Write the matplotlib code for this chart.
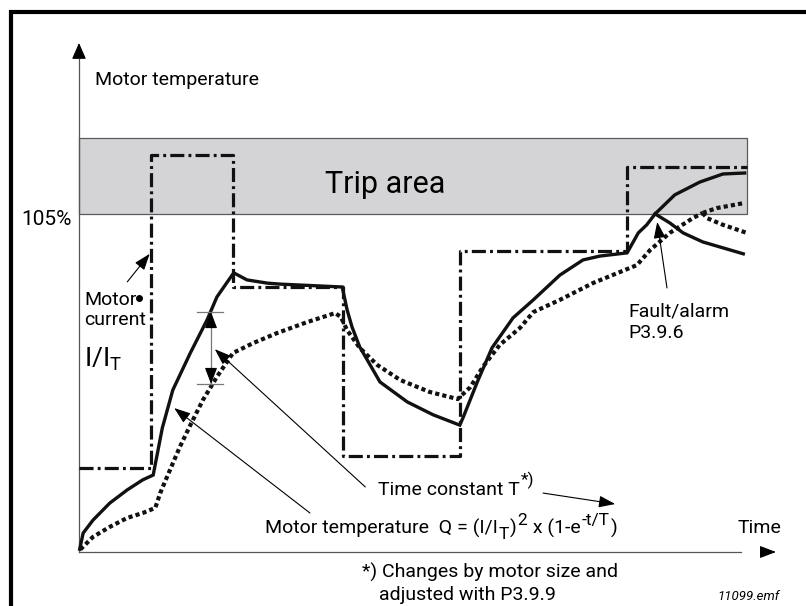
import matplotlib
matplotlib.use("Agg")
import matplotlib.pyplot as plt
from matplotlib.patches import Rectangle

plt.rcParams['font.family'] = ['Roboto', 'DejaVu Sans']
plt.rcParams['mathtext.fontset'] = 'custom'
plt.rcParams['mathtext.rm'] = 'Roboto'
plt.rcParams['mathtext.it'] = 'Roboto:italic'
plt.rcParams['mathtext.bf'] = 'Roboto:bold'

# ---------------- data (time units, temperature in % of nominal) ----------------
# motor current (step profile): change times and levels
current_t = [0, 10.3, 22.0, 37.7, 54.4, 78.3, 95.4]
current_level = [26.1, 123.3, 82.3, 29.8, 93.5, 119.6, 119.6]

# motor temperature, solid curve
temp_t = [0.1, 0.6, 2.0, 4.4, 6.9, 9.1, 10.6, 11.9, 13.4, 15.9, 18.3, 19.7, 22.1,
          24.0, 26.9, 28.7, 37.6, 38.3, 39.0, 40.1, 43.0, 46.9, 50.6, 54.4,
          54.9, 56.9, 59.0, 62.0, 64.9, 68.7, 72.0, 74.4, 78.3, 79.9, 81.1, 82.3]
temp_q = [0.9, 5.9, 9.9, 15.2, 19.3, 22.4, 23.9, 38.5, 50.3, 61.8, 72.1, 79.2, 86.7,
          84.5, 83.5, 83.2, 82.3, 75.2, 69.9, 63.7, 52.8, 46.6, 42.6, 39.4,
          41.9, 52.8, 63.4, 72.7, 78.3, 86.0, 90.7, 91.9, 92.9, 99.1, 101.6, 105.0]
temp_up_t = [82.3, 85.1, 88.7, 92.0, 95.1]
temp_up_q = [105.0, 110.9, 114.9, 117.4, 117.7]
temp_down_t = [82.3, 84.4, 86.3, 89.1, 94.9]
temp_down_q = [105.0, 102.2, 99.1, 96.3, 92.6]

# motor temperature model, dotted curve
model_t = [0.2, 2.0, 4.4, 6.9, 9.1, 10.9, 11.6, 13.0, 14.4, 15.9, 17.7, 19.7, 22.0,
           24.9, 28.3, 32.6, 36.6, 37.4, 38.3, 40.1, 42.6, 45.9, 50.1, 54.1,
           55.9, 57.7, 60.1, 63.0, 64.9, 68.7, 73.4, 79.7, 81.6, 84.4, 87.7, 89.1]
model_q = [0.8, 4.7, 7.8, 10.6, 12.1, 13.7, 18.3, 25.5, 32.6, 39.4, 47.2, 54.4, 61.8,
           64.9, 68.0, 71.4, 74.2, 73.0, 68.9, 63.4, 58.1, 53.4, 49.7, 47.5,
           51.2, 57.5, 64.3, 69.6, 74.5, 78.3, 83.5, 89.1, 93.8, 99.1, 103.7, 105.3]
model_up_t = [89.1, 91.1, 95.1]
model_up_q = [105.3, 106.8, 108.4]
model_down_t = [89.1, 89.7, 92.0, 95.4]
model_down_q = [105.3, 103.7, 101.6, 99.1]

trip_level = 105.0
trip_top = 128.5
trip_end = 95.4

# ---------------- layout ----------------
PX_T = 7.0     # pixels per time unit
PX_Q = 3.22    # pixels per %
OX, OY = 79, 552
W, H = 806, 606

fig = plt.figure(figsize=(W / 100, H / 100), dpi=100)
ax = fig.add_axes([0, 0, 1, 1])
ax.set_xlim(-OX / PX_T, (W - OX) / PX_T)
ax.set_ylim(-(H - OY) / PX_Q, OY / PX_Q)
ax.axis('off')

# outer frame
fig.add_artist(Rectangle((11 / W, -0.5), 2, (H - 12) / H + 0.5, transform=fig.transFigure,
                         fill=False, lw=3.0, ec='black', clip_on=False))

# trip area
ax.add_patch(Rectangle((0, trip_level), trip_end, trip_top - trip_level,
                       fc='#d4d4d6', ec='#5a5a5a', lw=0.9, zorder=1))

# axes lines with arrows
y_tip = (OY - 43) / PX_Q
x_tip = (776 - OX) / PX_T
ax.plot([0, 0], [0, y_tip - 5], color='#555555', lw=0.9, zorder=2)
ax.plot([0, x_tip - 5], [0, 0], color='#555555', lw=0.9, zorder=2)


def head(tip, tail, hl=10, hw=4.2, color='black'):
    ax.annotate('', xy=tip, xytext=tail,
                arrowprops=dict(arrowstyle='-|>,head_length=%g,head_width=%g' % (hl, hw),
                                mutation_scale=1, lw=0.8, color=color,
                                shrinkA=0, shrinkB=0), zorder=6)


head((0, y_tip), (0, y_tip - 14 / PX_Q), hl=10, hw=4.4)
head((x_tip, 0), (x_tip - 14 / PX_T, 0), hl=10, hw=3.8)

# curves
dot_style = dict(color='#111111', lw=3.0, linestyle=(0, (1, 0.75)),
                 dash_capstyle='butt', zorder=4)
ax.plot(current_t, current_level, drawstyle='steps-post', color='#111111', lw=2.3,
        linestyle=(0, (4.4, 1.3, 0.9, 1.3)), dash_capstyle='butt', zorder=3)
ax.plot(model_t, model_q, **dot_style)
ax.plot(model_up_t, model_up_q, **dot_style)
ax.plot(model_down_t, model_down_q, **dot_style)
ax.plot(temp_t, temp_q, color='#111111', lw=2.4, solid_joinstyle='miter', zorder=5)
ax.plot(temp_up_t, temp_up_q, color='#111111', lw=2.4, zorder=5)
ax.plot(temp_down_t, temp_down_q, color='#111111', lw=2.4, zorder=5)


# pointer arrows
def pointer(tip, tail, hl=10, hw=3.6):
    ax.annotate('', xy=tip, xytext=tail,
                arrowprops=dict(arrowstyle='-|>,head_length=%g,head_width=%g' % (hl, hw),
                                mutation_scale=1, lw=0.8, color='black',
                                shrinkA=0, shrinkB=0), zorder=6)


pointer((13.6, 44.7), (33.0, 12.1))        # motor temperature
pointer((19.4, 63.0), (40.9, 20.2))        # time constant
pointer((10.1, 92.6), (6.9, 83.9))         # motor current
pointer((82.6, 102.5), (84.0, 82.0))       # fault / alarm
pointer((76.6, 14.9), (66.3, 18.3))        # T -> formula

# double arrow (time constant span)
dx = 18.86
ax.plot([dx, dx], [52.2, 74.5], color='#777777', lw=0.9, zorder=5)
ax.plot([16.86, 20.57], [74.5, 74.5], color='#777777', lw=0.9, zorder=5)
ax.plot([16.86, 20.57], [52.2, 52.2], color='#777777', lw=0.9, zorder=5)
head((dx, 74.5), (dx, 74.5 - 14 / PX_Q), hl=10, hw=3.8)
head((dx, 52.2), (dx, 52.2 + 14 / PX_Q), hl=10, hw=3.8)

# small bullet next to "Motor"
ax.plot([8.57], [78.9], 'o', color='black', ms=4, zorder=6)

# texts
fs = 14
fs_s = 12.5
ax.text(2.29, 145.0, 'Motor temperature', fontsize=fs, va='baseline', ha='left')
ax.text(-1.0, 101.6, '105%', fontsize=15, va='baseline', ha='right')
ax.text(35.14, 111.5, 'Trip area', fontsize=22, va='baseline', ha='left')
ax.text(0.71, 76.7, 'Motor', fontsize=fs, va='baseline', ha='left')
ax.text(0.71, 70.5, 'current', fontsize=fs, va='baseline', ha='left')
ax.text(0.71, 57.45, r'I/I$_{\mathrm{T}}$', fontsize=19, va='baseline', ha='left')
ax.text(78.43, 73.0, 'Fault/alarm', fontsize=fs, va='baseline', ha='left')
ax.text(78.43, 66.5, 'P3.9.6', fontsize=fs, va='baseline', ha='left')
ax.text(94.14, 5.9, 'Time', fontsize=fs, va='baseline', ha='left')
ax.text(40.43, -8.07, '*) Changes by motor size and', fontsize=fs, va='baseline', ha='left')
ax.text(42.86, -14.9, 'adjusted with P3.9.9', fontsize=fs, va='baseline', ha='left')
ax.text(100.14, -14.9, '11099.emf', fontsize=9.5, style='italic', va='baseline', ha='right')


def chain(x, y, pieces):
    """pieces: list of (text, fontsize, vertical offset in points)"""
    prev = None
    for txt, size, dy in pieces:
        if prev is None:
            prev = ax.text(x, y, txt, fontsize=size, va='bottom', ha='left')
        else:
            prev = ax.annotate(txt, xy=(1, 0), xycoords=prev, xytext=(0.6, dy),
                               textcoords='offset points', fontsize=size,
                               va='bottom', ha='left')
    return prev


# baseline -> bottom of text box (Roboto descent ~0.21 em)
desc = 0.21 * fs * 1.389 / PX_Q
tc = chain(42.71, 17.7 - desc, [('Time constant T', fs, 0), ('*)', fs_s, 7)])
fm = chain(26.57, 5.6 - desc, [('Motor temperature  Q = (I/I', fs, 0),
                               ('T', fs_s, -3.0),
                               (')', fs, 3.0),
                               ('2', fs_s, 7.5),
                               (' x (1-e', fs, -7.5),
                               ('-t/T', fs_s, 7.5),
                               (')', fs, -7.5)])

fig.savefig('out.png', dpi=100)
